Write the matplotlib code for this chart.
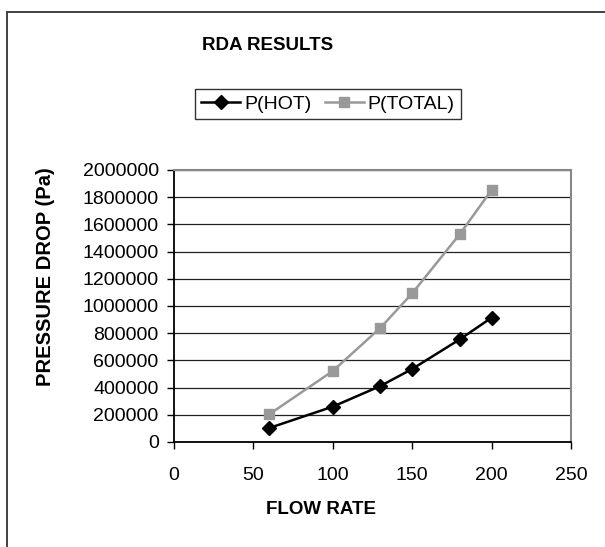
import matplotlib
matplotlib.use("Agg")
import matplotlib.pyplot as plt
from matplotlib.patches import Rectangle

plt.rcParams['font.family'] = ['Liberation Sans', 'DejaVu Sans']

flow_rate = [60, 100, 130, 150, 180, 200]
p_hot = [103000, 260000, 412000, 537000, 755000, 914000]
p_total = [204000, 522000, 840000, 1093000, 1529000, 1853000]
x_ticks = [0, 50, 100, 150, 200, 250]
y_ticks = list(range(0, 2000001, 200000))

W, H = 605, 547
fig = plt.figure(figsize=(W / 100, H / 100), dpi=100)

# outer chart border (extends past right/bottom edges)
fig.patches.append(Rectangle((7 / W, -0.1), 1.2, (H - 12) / H + 0.1,
                             transform=fig.transFigure, fill=False,
                             edgecolor='#333333', linewidth=1.3))

l, r, t, b = 174, 571, 170, 442
ax = fig.add_axes([l / W, 1 - b / H, (r - l) / W, (b - t) / H])

ax.plot(flow_rate, p_hot, color='black', lw=1.8, marker='D', ms=7,
        label='P(HOT)', zorder=3)
ax.plot(flow_rate, p_total, color='#999999', lw=1.8, marker='s', ms=6.5,
        label='P(TOTAL)', zorder=3)

ax.set_xlim(0, 250)
ax.set_ylim(0, 2000000)
ax.set_xticks(x_ticks)
ax.set_yticks(y_ticks)
ax.set_xticklabels([str(v) for v in x_ticks])
ax.set_yticklabels([str(v) for v in y_ticks])
ax.tick_params(axis='both', direction='out', length=5, width=1, labelsize=14,
               colors='black')
ax.tick_params(axis='x', pad=13)
ax.tick_params(axis='y', pad=6)
ax.grid(axis='y', color='#222222', lw=0.9)
ax.set_axisbelow(True)
ax.spines['left'].set_color('black')
ax.spines['bottom'].set_color('black')
ax.spines['left'].set_linewidth(1.3)
ax.spines['bottom'].set_linewidth(1.3)
ax.spines['top'].set_color('#888888')
ax.spines['right'].set_color('#888888')
ax.spines['top'].set_linewidth(1.5)
ax.spines['right'].set_linewidth(1.5)

fig.text(268 / W, 1 - 45 / H, 'RDA RESULTS', ha='center', va='center',
         fontsize=13.5, fontweight='bold')
fig.text(321 / W, 1 - 510 / H, 'FLOW RATE', ha='center', va='center',
         fontsize=13.5, fontweight='bold')
fig.text(46 / W, 1 - 277 / H, 'PRESSURE DROP (Pa)', ha='center', va='center',
         fontsize=14.5, fontweight='bold', rotation=90)

leg = fig.legend(loc='center', bbox_to_anchor=(328 / W, 1 - 104 / H),
                 ncol=2, frameon=True, fancybox=False, fontsize=14,
                 handlelength=2.0, handletextpad=0.2, columnspacing=0.7,
                 borderpad=0.3)
leg.get_frame().set_edgecolor('black')
leg.get_frame().set_linewidth(1.0)

fig.savefig('out.png', dpi=100)
